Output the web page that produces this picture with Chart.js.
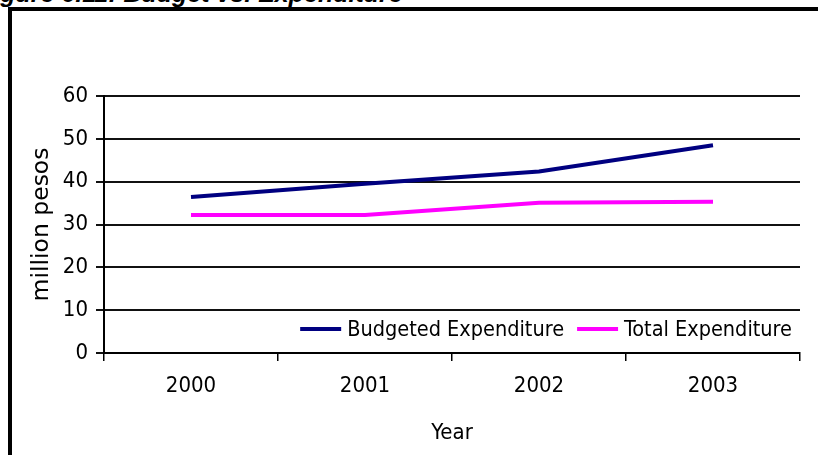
<!DOCTYPE html>
<html>
<head>
<meta charset="utf-8">
<script src="https://cdn.jsdelivr.net/npm/chart.js@4"></script>
<style>
  html, body { margin: 0; padding: 0; background: #fff; overflow: hidden; }
  #wrap { position: relative; width: 818px; height: 455px; }
  #marco { position: absolute; left: 8px; top: 7px; width: 900px; height: 600px;
           border-left: 4px solid #000; border-top: 4px solid #000; }
  #titulo { position: absolute; left: -22px; top: -21px; white-space: nowrap;
            font: bold italic 25px 'Liberation Sans', Arial, sans-serif; color: #000; }
  canvas { position: absolute; left: 0; top: 0; }
</style>
</head>
<body>
<div id="wrap">
  <div id="marco"></div>
  <div id="titulo">Figure 6.11: Budget vs. Expenditure</div>
  <canvas id="grafico" width="818" height="455"></canvas>
</div>
<script>
const anios = ['2000', '2001', '2002', '2003'];
const presupuesto = [36.4, 39.5, 42.4, 48.5];
const gastoTotal = [32.2, 32.2, 35.1, 35.3];
const nombres = ['Budgeted Expenditure', 'Total Expenditure'];
const colores = ['#000080', '#ff00ff'];

const fuente = "'DejaVu Sans Condensed', 'DejaVu Sans', sans-serif";

// leyenda dentro del area del grafico, abajo a la derecha
const leyendaDentro = {
  id: 'leyendaDentro',
  afterDraw(chart) {
    const ctx = chart.ctx;
    const area = chart.chartArea;
    ctx.save();
    ctx.font = '21.5px ' + fuente;
    ctx.textBaseline = 'middle';
    const y = area.bottom - 24;
    const largo = 41, sep = 6, hueco = 13;
    let ancho = 0;
    nombres.forEach((n, i) => {
      ancho += largo + sep + ctx.measureText(n).width + (i < nombres.length - 1 ? hueco : 0);
    });
    let x = area.right - 8 - ancho;
    nombres.forEach((n, i) => {
      ctx.strokeStyle = colores[i];
      ctx.lineWidth = 4;
      ctx.beginPath();
      ctx.moveTo(x, y);
      ctx.lineTo(x + largo, y);
      ctx.stroke();
      x += largo + sep;
      ctx.fillStyle = '#000';
      ctx.fillText(n, x, y + 1);
      x += ctx.measureText(n).width + hueco;
    });
    ctx.restore();
  }
};

const ctx = document.getElementById('grafico').getContext('2d');
new Chart(ctx, {
  type: 'line',
  data: {
    labels: anios,
    datasets: [
      { label: nombres[0], data: presupuesto, borderColor: colores[0], borderWidth: 4, pointRadius: 0, tension: 0, fill: false },
      { label: nombres[1], data: gastoTotal, borderColor: colores[1], borderWidth: 4, pointRadius: 0, tension: 0, fill: false }
    ]
  },
  options: {
    responsive: false,
    animation: false,
    layout: { padding: { left: 14, right: 18, top: 96, bottom: 0 } },
    plugins: {
      legend: { display: false },
      tooltip: { enabled: false },
      title: { display: false }
    },
    scales: {
      x: {
        offset: true,
        grid: { offset: true, drawOnChartArea: false, color: '#000', lineWidth: 1.5, tickLength: 8 },
        border: { display: true, color: '#000', width: 2 },
        ticks: { color: '#000', font: { family: fuente, size: 22 }, padding: 12, maxRotation: 0 },
        title: { display: true, text: 'Year', color: '#000', font: { family: fuente, size: 22 }, padding: { top: 4, bottom: 9 } },
        afterFit(scale) { scale.height = 102; }
      },
      y: {
        min: 0,
        max: 60,
        ticks: { stepSize: 10, color: '#000', font: { family: fuente, size: 22 }, padding: 8 },
        grid: { color: '#111', lineWidth: 2, tickLength: 8 },
        border: { display: true, color: '#000', width: 2 },
        title: { display: true, text: 'million pesos', color: '#000', font: { family: "'DejaVu Sans', sans-serif", size: 23.5 }, padding: { top: 14, bottom: 4 } },
        afterFit(scale) { scale.width = 90; }
      }
    }
  },
  plugins: [leyendaDentro]
});
</script>
</body>
</html>
